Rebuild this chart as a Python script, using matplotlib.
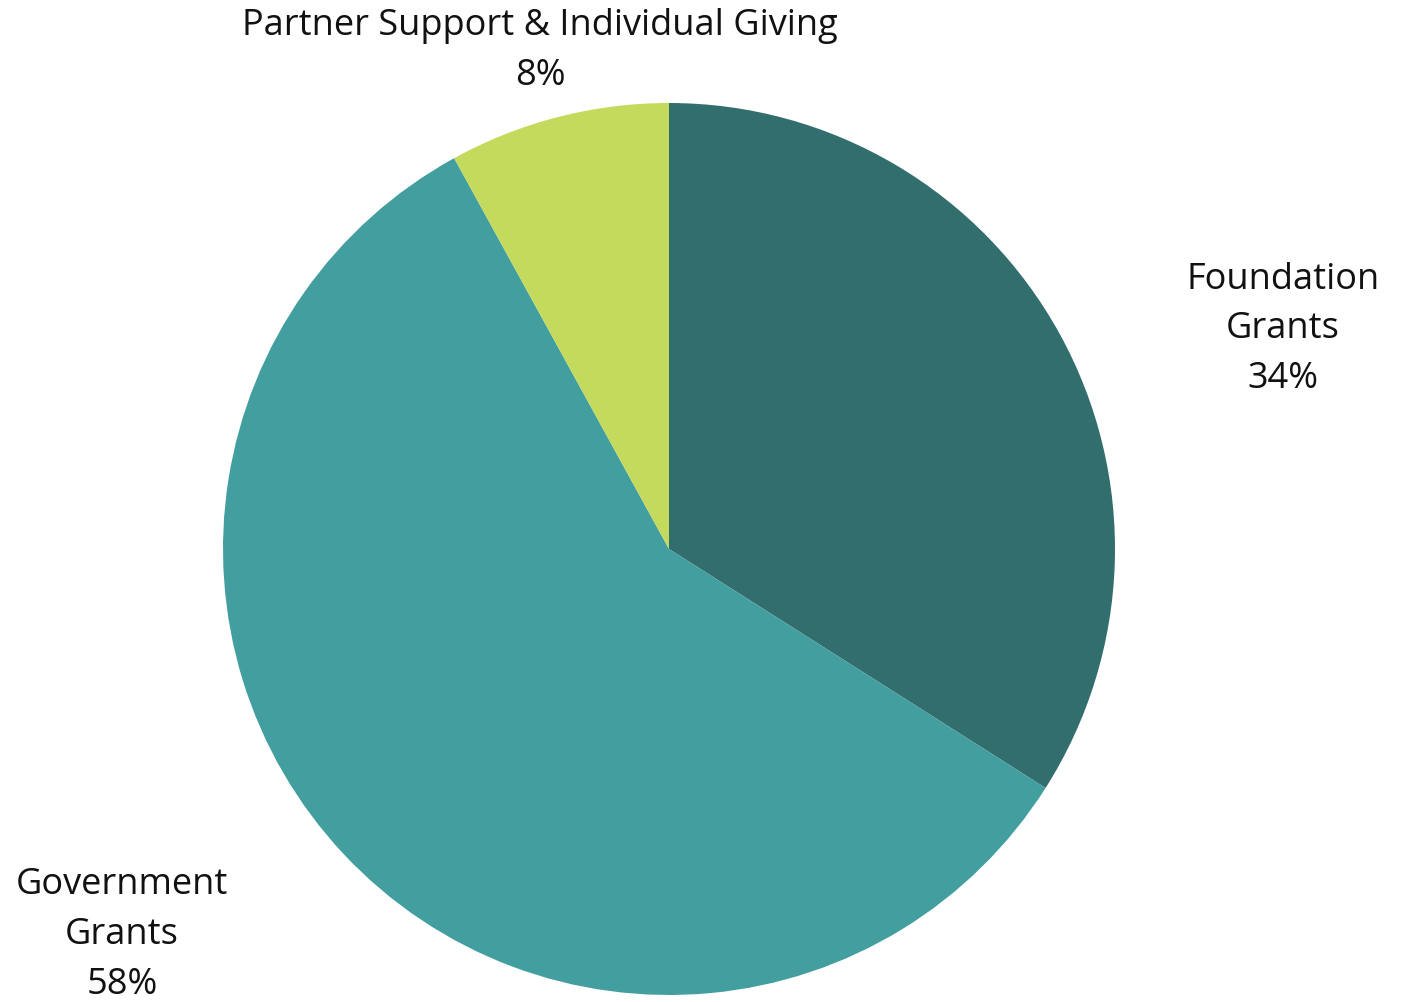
import matplotlib.pyplot as plt

categories = ["Foundation\nGrants", "Government\nGrants", "Partner Support & Individual Giving"]
shares = [34, 58, 8]
colors = ["#336e6e", "#429e9f", "#c4da5c"]

W, H = 1405, 1002
fig = plt.figure(figsize=(W / 100, H / 100), dpi=100)
ax = fig.add_axes([0, 0, 1, 1])

cx, cy, r = 669, H - 549, 446
ax.pie(shares, colors=colors, startangle=90, counterclock=False,
       center=(cx, cy), radius=r, frame=True)
ax.set_xlim(0, W)
ax.set_ylim(0, H)
ax.set_aspect("equal")
ax.axis("off")

label_pos = [(1283, H - 329), (122, H - 935), (540, H - 51)]
for name, val, (x, y) in zip(categories, shares, label_pos):
    ax.text(x, y, f"{name}\n{val}%", ha="center", va="center",
            fontsize=26, family="Open Sans", color="#111111", linespacing=1.5)

fig.savefig("out.png", dpi=100)
